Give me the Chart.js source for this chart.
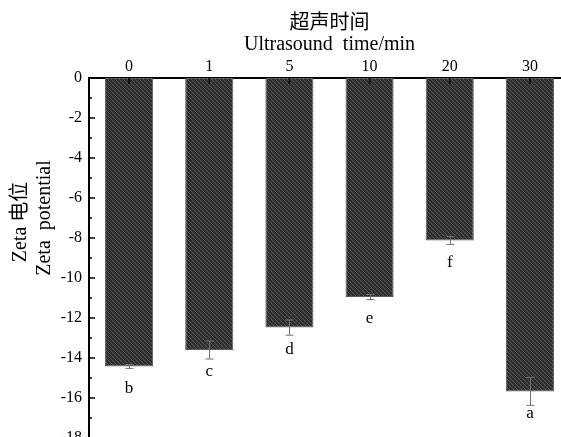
<!DOCTYPE html>
<html>
<head>
<meta charset="utf-8">
<script src="https://cdn.jsdelivr.net/npm/chart.js@4.4.1/dist/chart.umd.min.js"></script>
<style>
  html, body { margin: 0; padding: 0; background: #fff; overflow: hidden; }
  #clip { width: 561px; height: 437px; overflow: hidden; }
  #box { width: 571px; height: 439px; position: relative; }
</style>
</head>
<body>
<div id="clip"><div id="box"><canvas id="zetaChart"></canvas></div></div>
<script>
const timeLabels = ["0", "1", "5", "10", "20", "30"];
const zetaMeans = [-14.42, -13.6, -12.48, -10.95, -8.12, -15.67];
const zetaErrors = [0.1, 0.45, 0.38, 0.13, 0.2, 0.7];
const sigLetters = ["b", "c", "d", "e", "f", "a"];
const yMin = -18;
const yMax = 0;

const serif = "'Liberation Serif', 'Noto Sans CJK SC', serif";

function makeHatch() {
  const c = document.createElement("canvas");
  c.width = 4;
  c.height = 4;
  const g = c.getContext("2d");
  g.fillStyle = "#2f2f2f";
  g.fillRect(0, 0, 4, 4);
  g.strokeStyle = "#555";
  g.lineWidth = 1;
  g.beginPath();
  g.moveTo(-1, -1);
  g.lineTo(5, 5);
  g.moveTo(-1, 3);
  g.lineTo(1, 5);
  g.moveTo(3, -1);
  g.lineTo(5, 1);
  g.stroke();
  return g.createPattern(c, "repeat");
}

const decor = {
  id: "decor",
  afterDatasetsDraw(chart) {
    const { ctx, chartArea } = chart;
    const x = chart.scales.x;
    const y = chart.scales.y;
    ctx.save();

    // error bars
    ctx.strokeStyle = "#707070";
    ctx.lineWidth = 1;
    zetaMeans.forEach((v, i) => {
      const px = Math.round(x.getPixelForValue(i)) + 0.5;
      const t = y.getPixelForValue(v + zetaErrors[i]);
      const b = y.getPixelForValue(v - zetaErrors[i]);
      ctx.beginPath();
      ctx.moveTo(px, t);
      ctx.lineTo(px, b);
      ctx.moveTo(px - 4, t);
      ctx.lineTo(px + 4, t);
      ctx.moveTo(px - 4, b);
      ctx.lineTo(px + 4, b);
      ctx.stroke();
    });

    // letters under bars
    ctx.fillStyle = "#000";
    ctx.font = "17px " + serif;
    ctx.textAlign = "center";
    ctx.textBaseline = "middle";
    zetaMeans.forEach((v, i) => {
      ctx.fillText(sigLetters[i], x.getPixelForValue(i), y.getPixelForValue(v) + 22);
    });

    // inward ticks
    ctx.strokeStyle = "#000";
    ctx.lineWidth = 1.5;
    ctx.beginPath();
    for (let v = yMax; v >= yMin; v--) {
      const py = y.getPixelForValue(v);
      const len = v % 2 === 0 ? 6 : 3;
      ctx.moveTo(chartArea.left, py);
      ctx.lineTo(chartArea.left + len, py);
    }
    timeLabels.forEach((_, i) => {
      const px = x.getPixelForValue(i);
      ctx.moveTo(px, chartArea.top);
      ctx.lineTo(px, chartArea.top + 6);
    });
    ctx.stroke();

    // y axis title, two lines
    ctx.font = "20px " + serif;
    ctx.fillStyle = "#000";
    ctx.translate(21, 222);
    ctx.rotate(-Math.PI / 2);
    ctx.fillText("Zeta 电位", 0, 0);
    ctx.rotate(Math.PI / 2);
    ctx.translate(24, -4);
    ctx.rotate(-Math.PI / 2);
    ctx.fillText("Zeta  potential", 0, 0);
    ctx.restore();
  },
};

document.addEventListener("DOMContentLoaded", () => {
  const ctx = document.getElementById("zetaChart").getContext("2d");
  new Chart(ctx, {
    type: "bar",
    data: {
      labels: timeLabels,
      datasets: [
        {
          data: zetaMeans,
          backgroundColor: makeHatch(),
          borderColor: "#5a5a5a",
          borderWidth: 1,
          borderSkipped: false,
          barPercentage: 0.6,
          categoryPercentage: 1,
        },
      ],
    },
    options: {
      responsive: true,
      maintainAspectRatio: false,
      animation: false,
      layout: { padding: { left: 0, right: 1, top: 0, bottom: 1 } },
      plugins: {
        legend: { display: false },
        tooltip: { enabled: false },
      },
      scales: {
        x: {
          position: "top",
          grid: { display: false, drawTicks: false },
          border: { display: true, color: "#000", width: 2 },
          ticks: { color: "#000", padding: 2, font: { family: serif, size: 16 } },
          title: {
            display: true,
            text: ["超声时间", "Ultrasound  time/min"],
            color: "#000",
            padding: { top: 13, bottom: 0 },
            font: { family: serif, size: 20, lineHeight: 1.05 },
          },
          afterFit(scale) {
            scale.height = 78;
            scale.paddingLeft = 0;
            scale.paddingRight = 0;
          },
        },
        y: {
          min: yMin,
          max: yMax,
          grid: { display: false, drawTicks: false },
          border: { display: true, color: "#000", width: 2 },
          ticks: {
            stepSize: 2,
            color: "#000",
            padding: 7,
            font: { family: serif, size: 16 },
          },
          afterFit(scale) {
            scale.width = 89;
            scale.paddingTop = 0;
            scale.paddingBottom = 0;
          },
        },
      },
    },
    plugins: [decor],
  });
});
</script>
</body>
</html>
